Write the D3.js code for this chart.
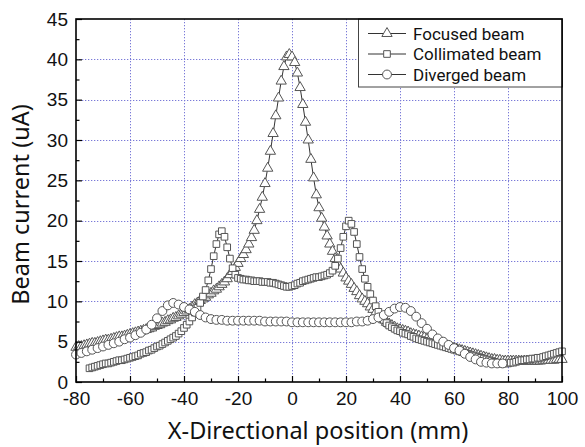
<!DOCTYPE html>
<html>
<head>
<meta charset="utf-8">
<script src="https://cdn.jsdelivr.net/npm/d3@7"></script>
<style>
  html, body { margin: 0; padding: 0; background: #fff; }
  svg { display: block; }
  .tick text { font-family: "Liberation Sans", Arial, sans-serif; font-size: 19px; fill: #111; }
</style>
</head>
<body>
<div id="chart"></div>
<script>
  "use strict";

  // x positions: focused & collimated every 1 mm, diverged every 2 mm
  var focusedX = d3.range(-80, 101, 1);
  var collimatedX = d3.range(-75, 101, 1);
  var divergedX = d3.range(-80, 79, 2);

  // Focused beam (uA), x = -80 .. 100
  var focusedY = [
    4.3, 4.4, 4.4, 4.5, 4.6, 4.7, 4.8, 4.8, 4.9, 5.0,
    5.1, 5.2, 5.2, 5.3, 5.4, 5.5, 5.6, 5.6, 5.7, 5.8,
    5.9, 6.0, 6.1, 6.2, 6.3, 6.4, 6.5, 6.6, 6.7, 6.9,
    7.0, 7.1, 7.3, 7.4, 7.6, 7.7, 7.9, 8.0, 8.2, 8.4,
    8.6, 8.8, 9.0, 9.3, 9.6, 9.8, 10.1, 10.3, 10.5, 10.8,
    11.0, 11.3, 11.5, 11.8, 12.1, 12.4, 12.8, 13.3, 13.7, 14.2,
    14.7, 15.3, 15.8, 16.4, 17.1, 17.9, 18.8, 20.0, 21.4, 22.9,
    24.6, 26.5, 28.6, 30.8, 33.0, 35.2, 37.3, 39.1, 40.3, 40.6,
    40.3, 39.6, 38.3, 36.5, 34.4, 32.2, 30.0, 27.6, 25.3, 23.2,
    21.6, 20.3, 19.2, 18.1, 17.1, 16.2, 15.3, 14.6, 14.0, 13.5,
    12.9, 12.5, 12.1, 11.6, 11.2, 10.7, 10.3, 10.0, 9.7, 9.3,
    9.0, 8.6, 8.3, 8.0, 7.7, 7.4, 7.2, 7.0, 6.8, 6.6,
    6.5, 6.4, 6.3, 6.2, 6.0, 5.9, 5.8, 5.7, 5.6, 5.5,
    5.3, 5.2, 5.1, 5.0, 4.9, 4.8, 4.6, 4.5, 4.4, 4.3,
    4.2, 4.1, 4.0, 3.9, 3.8, 3.7, 3.6, 3.5, 3.4, 3.3,
    3.2, 3.1, 3.0, 2.9, 2.8, 2.8, 2.7, 2.7, 2.6, 2.6,
    2.6, 2.6, 2.6, 2.6, 2.6, 2.6, 2.6, 2.6, 2.6, 2.6,
    2.6, 2.6, 2.6, 2.7, 2.7, 2.7, 2.7, 2.7, 2.8, 2.8,
    2.8
  ];

  // Collimated beam (uA), x = -75 .. 100
  var collimatedY = [
    1.7, 1.8, 1.9, 2.0, 2.1,
    2.2, 2.3, 2.3, 2.4, 2.5, 2.6, 2.7, 2.7, 2.8, 2.9,
    3.0, 3.1, 3.2, 3.3, 3.5, 3.6, 3.7, 3.9, 4.0, 4.2,
    4.4, 4.5, 4.7, 4.9, 5.1, 5.3, 5.5, 5.7, 6.0, 6.3,
    6.7, 7.1, 7.5, 8.0, 8.6, 9.2, 9.8, 10.6, 11.4, 12.6,
    14.0, 15.6, 17.1, 18.3, 18.7, 18.0, 16.7, 15.3, 14.1, 13.3,
    12.9, 12.8, 12.7, 12.7, 12.6, 12.6, 12.5, 12.5, 12.5, 12.4,
    12.4, 12.4, 12.3, 12.3, 12.2, 12.1, 12.0, 11.9, 11.8, 11.8,
    11.9, 12.0, 12.2, 12.3, 12.5, 12.6, 12.7, 12.8, 12.9, 13.0,
    13.0, 13.1, 13.2, 13.3, 13.5, 13.8, 14.4, 15.3, 16.6, 18.0,
    19.3, 20.0, 19.6, 18.6, 17.1, 15.5, 14.0, 12.8, 11.8, 10.9,
    10.1, 9.4, 8.7, 8.1, 7.7, 7.3, 7.0, 6.8, 6.6, 6.4,
    6.3, 6.1, 6.0, 5.9, 5.7, 5.6, 5.4, 5.3, 5.2, 5.1,
    5.0, 4.9, 4.8, 4.7, 4.6, 4.5, 4.4, 4.3, 4.2, 4.1,
    4.0, 3.9, 3.8, 3.7, 3.6, 3.5, 3.4, 3.3, 3.2, 3.1,
    3.0, 2.9, 2.8, 2.7, 2.6, 2.5, 2.4, 2.3, 2.3, 2.3,
    2.3, 2.4, 2.4, 2.5, 2.6, 2.7, 2.7, 2.8, 2.8, 2.9,
    2.9, 3.0, 3.0, 3.1, 3.2, 3.3, 3.4, 3.5, 3.6, 3.7,
    3.8
  ];

  // Diverged beam (uA), x = -80 .. 78
  var divergedY = [
    3.4, 3.6, 3.8, 4.0, 4.2, 4.4, 4.6, 4.8, 5.0, 5.3,
    5.5, 5.8, 6.1, 6.5, 7.1, 7.9, 8.8, 9.5, 9.8, 9.6,
    9.3, 9.0, 8.7, 8.3, 8.0, 7.8, 7.7, 7.7, 7.6, 7.6,
    7.6, 7.6, 7.6, 7.6, 7.6, 7.5, 7.5, 7.5, 7.5, 7.5,
    7.4, 7.4, 7.4, 7.4, 7.4, 7.4, 7.4, 7.4, 7.4, 7.4,
    7.4, 7.4, 7.5, 7.5, 7.6, 7.8, 8.0, 8.3, 8.7, 9.1,
    9.3, 9.2, 8.8, 8.1, 7.3, 6.6, 5.9, 5.4, 5.0, 4.6,
    4.2, 3.9, 3.5, 3.1, 2.8, 2.5, 2.4, 2.3, 2.3, 2.3
  ];

  var seriesNames = ['Focused beam', 'Collimated beam', 'Diverged beam'];
  var xTicks = [-80, -60, -40, -20, 0, 20, 40, 60, 80, 100];
  var yTicks = [0, 5, 10, 15, 20, 25, 30, 35, 40, 45];

  var width = 585, height = 447;
  var margin = {top: 19, right: 23, bottom: 65, left: 76};
  var innerW = width - margin.left - margin.right;
  var innerH = height - margin.top - margin.bottom;

  var x = d3.scaleLinear().domain([-80, 100]).range([0, innerW]);
  var y = d3.scaleLinear().domain([0, 45]).range([innerH, 0]);

  // plain hyphen for negatives, like the original
  var fmt = function(d) { return String(d); };

  var svg = d3.select('#chart').append('svg')
    .attr('width', width)
    .attr('height', height);

  var g = svg.append('g')
    .attr('transform', 'translate(' + margin.left + ',' + margin.top + ')');

  // dotted grid
  var grid = g.append('g').attr('class', 'grid')
    .attr('stroke', '#7a7ad8')
    .attr('stroke-width', 1)
    .attr('stroke-dasharray', '1.3,1.7');

  grid.selectAll('line.gx')
    .data(xTicks.slice(1, -1))
    .enter().append('line')
    .attr('class', 'gx')
    .attr('x1', function(d) { return Math.round(x(d)) + 0.5; })
    .attr('x2', function(d) { return Math.round(x(d)) + 0.5; })
    .attr('y1', 0)
    .attr('y2', innerH);

  grid.selectAll('line.gy')
    .data(yTicks.slice(1, -1))
    .enter().append('line')
    .attr('class', 'gy')
    .attr('y1', function(d) { return Math.round(y(d)) + 0.5; })
    .attr('y2', function(d) { return Math.round(y(d)) + 0.5; })
    .attr('x1', 0)
    .attr('x2', innerW);

  var series = [
    {name: seriesNames[0], xs: focusedX, ys: focusedY, symbol: d3.symbolTriangle, size: 46},
    {name: seriesNames[1], xs: collimatedX, ys: collimatedY, symbol: d3.symbolSquare, size: 44},
    {name: seriesNames[2], xs: divergedX, ys: divergedY, symbol: d3.symbolCircle, size: 62}
  ];

  var lineFn = d3.line()
    .x(function(d) { return x(d[0]); })
    .y(function(d) { return y(d[1]); });

  series.forEach(function(s) {
    var pts = s.xs.map(function(v, i) { return [v, s.ys[i]]; });
    var sg = g.append('g').attr('class', 'series');

    sg.append('path')
      .datum(pts)
      .attr('fill', 'none')
      .attr('stroke', '#333')
      .attr('stroke-width', 1)
      .attr('d', lineFn);

    sg.selectAll('path.marker')
      .data(pts)
      .enter().append('path')
      .attr('class', 'marker')
      .attr('d', d3.symbol().type(s.symbol).size(s.size))
      .attr('transform', function(d) {
        return 'translate(' + x(d[0]) + ',' + y(d[1]) + ')';
      })
      .attr('fill', '#fff')
      .attr('stroke', '#555')
      .attr('stroke-width', 1);
  });

  // legend box
  var lg = g.append('g').attr('class', 'legend')
    .attr('transform', 'translate(' + (innerW - 204) + ',0)');

  lg.append('rect')
    .attr('x', 0.5)
    .attr('y', 0)
    .attr('width', 204)
    .attr('height', 68)
    .attr('fill', '#fff')
    .attr('stroke', '#444')
    .attr('stroke-width', 1);

  series.forEach(function(s, i) {
    var cy = 14.5 + i * 20.5;
    var row = lg.append('g').attr('transform', 'translate(0,' + cy + ')');
    row.append('line')
      .attr('x1', 10).attr('x2', 48)
      .attr('y1', 0).attr('y2', 0)
      .attr('stroke', '#333')
      .attr('stroke-width', 1);
    row.append('path')
      .attr('d', d3.symbol().type(s.symbol).size(s.size))
      .attr('transform', 'translate(29,0)')
      .attr('fill', '#fff')
      .attr('stroke', '#555');
    row.append('text')
      .attr('x', 55)
      .attr('y', 0)
      .attr('dy', '0.36em')
      .attr('font-family', 'Roboto, "Noto Sans", sans-serif')
      .attr('font-size', 17)
      .attr('fill', '#111')
      .text(s.name);
  });

  // axes with inward ticks
  var xMinor = d3.range(-70, 100, 20);
  var yMinor = d3.range(2.5, 45, 5);

  var xAxis = g.append('g')
    .attr('transform', 'translate(0,' + innerH + ')')
    .call(d3.axisBottom(x).tickValues(xTicks).tickSize(-6).tickPadding(10)
      .tickFormat(fmt));
  xAxis.select('.domain').remove();

  var xAxisMinor = g.append('g')
    .attr('transform', 'translate(0,' + innerH + ')')
    .call(d3.axisBottom(x).tickValues(xMinor).tickSize(-3.5).tickFormat(''));
  xAxisMinor.select('.domain').remove();

  var yAxis = g.append('g')
    .call(d3.axisLeft(y).tickValues(yTicks).tickSize(-6).tickPadding(8)
      .tickFormat(fmt));
  yAxis.select('.domain').remove();

  var yAxisMinor = g.append('g')
    .call(d3.axisLeft(y).tickValues(yMinor).tickSize(-3.5).tickFormat(''));
  yAxisMinor.select('.domain').remove();

  g.selectAll('.tick line').attr('stroke', '#000').attr('stroke-width', 1.2);

  // frame
  g.append('rect')
    .attr('x', 0)
    .attr('y', 0)
    .attr('width', innerW)
    .attr('height', innerH)
    .attr('fill', 'none')
    .attr('stroke', '#000')
    .attr('stroke-width', 1.6);

  // axis titles
  svg.append('text')
    .attr('x', 318)
    .attr('y', 439)
    .attr('text-anchor', 'middle')
    .attr('font-family', '"Noto Sans", "Open Sans", sans-serif')
    .attr('font-size', 23.5)
    .attr('fill', '#111')
    .text('X-Directional position (mm)');

  svg.append('text')
    .attr('transform', 'translate(29,' + (margin.top + innerH / 2 + 4) + ') rotate(-90)')
    .attr('text-anchor', 'middle')
    .attr('font-family', '"Noto Sans", "Open Sans", sans-serif')
    .attr('font-size', 23.5)
    .attr('fill', '#111')
    .text('Beam current (uA)');
</script>
</body>
</html>
